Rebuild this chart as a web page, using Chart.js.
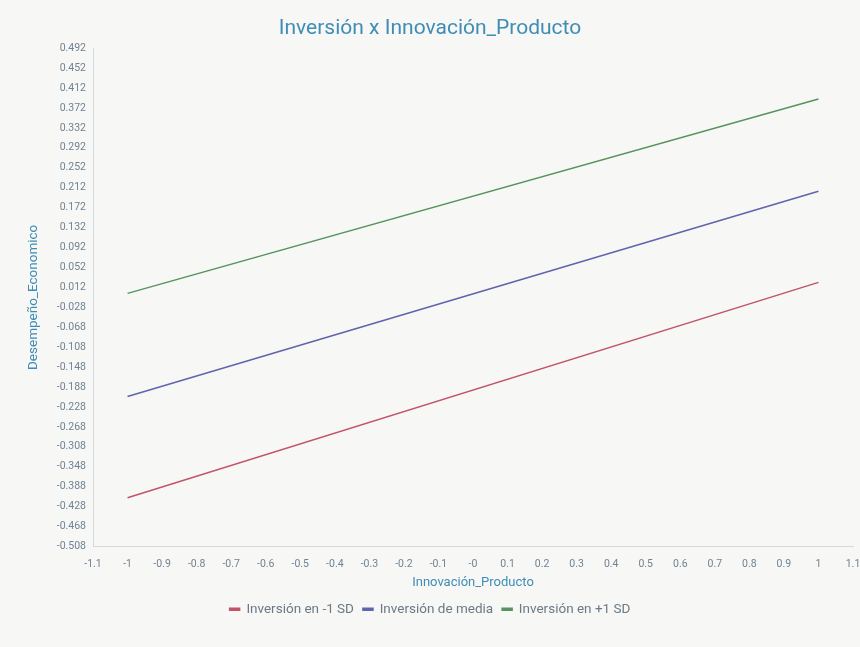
<!DOCTYPE html>
<html>
<head>
<meta charset="utf-8">
<script src="https://cdn.jsdelivr.net/npm/chart.js@4/dist/chart.umd.min.js"></script>
<style>
  html, body { margin: 0; padding: 0; background: #f7f7f5; }
  #wrap { width: 860px; height: 647px; }
</style>
</head>
<body>
<div id="wrap"><canvas id="c" width="860" height="647"></canvas></div>
<script>
// Simple-slopes plot: Desempeño_Economico vs Innovación_Producto at three levels of Inversión
const xEnds = [-1, 1];
const seriesNames = ['Inversión en -1 SD', 'Inversión de media', 'Inversión en +1 SD'];
const lowInv  = [-0.410, 0.022];
const meanInv = [-0.207, 0.205];
const highInv = [0.000, 0.390];

const xTickValues = [-1.1, -1, -0.9, -0.8, -0.7, -0.6, -0.5, -0.4, -0.3, -0.2, -0.1, 0, 0.1, 0.2, 0.3, 0.4, 0.5, 0.6, 0.7, 0.8, 0.9, 1, 1.1];
const xTickLabels = ['-1.1', '-1', '-0.9', '-0.8', '-0.7', '-0.6', '-0.5', '-0.4', '-0.3', '-0.2', '-0.1', '-0', '0.1', '0.2', '0.3', '0.4', '0.5', '0.6', '0.7', '0.8', '0.9', '1', '1.1'];
const yTickValues = [-0.508, -0.468, -0.428, -0.388, -0.348, -0.308, -0.268, -0.228, -0.188, -0.148, -0.108, -0.068, -0.028, 0.012, 0.052, 0.092, 0.132, 0.172, 0.212, 0.252, 0.292, 0.332, 0.372, 0.412, 0.452, 0.492];

const lineColors = ['#c25468', '#5e64ad', '#56935f'];
const accent = '#3f8db5';
const tickColor = '#6f8394';
const fontFamily = 'Roboto, "Open Sans", sans-serif';

const toPoints = ys => xEnds.map((x, i) => ({ x: x, y: ys[i] }));

new Chart(document.getElementById('c'), {
  type: 'scatter',
  data: {
    datasets: [lowInv, meanInv, highInv].map((ys, i) => ({
      label: seriesNames[i],
      data: toPoints(ys),
      showLine: true,
      borderColor: lineColors[i],
      backgroundColor: lineColors[i],
      borderWidth: 1.5,
      pointRadius: 0,
      pointHoverRadius: 0,
      tension: 0
    }))
  },
  options: {
    responsive: false,
    animation: false,
    layout: { padding: { left: 0, right: 0, top: 1, bottom: 21 } },
    plugins: {
      title: {
        display: true,
        text: 'Inversión x Innovación_Producto',
        color: accent,
        font: { family: fontFamily, size: 21, weight: 'normal' },
        padding: { top: 15, bottom: 7 }
      },
      legend: {
        position: 'bottom',
        labels: {
          color: '#6b7a87',
          font: { family: fontFamily, size: 13.5 },
          boxWidth: 10,
          boxHeight: 2,
          padding: 9
        }
      },
      tooltip: { enabled: false }
    },
    scales: {
      x: {
        type: 'linear',
        min: -1.1,
        max: 1.1,
        afterBuildTicks: s => { s.ticks = xTickValues.map(v => ({ value: v })); },
        afterFit: s => { s.height = 47; s.paddingRight = 7; },
        grid: { display: false, drawTicks: true, tickLength: 5, color: '#d5d9dd' },
        border: { display: true, color: '#d5d9dd' },
        ticks: {
          color: tickColor,
          font: { family: fontFamily, size: 10.5 },
          maxRotation: 0,
          autoSkip: false,
          padding: 7,
          callback: (v, i) => xTickLabels[i]
        },
        title: {
          display: true,
          text: 'Innovación_Producto',
          color: accent,
          font: { family: fontFamily, size: 13 },
          padding: { top: 0, bottom: 3 }
        }
      },
      y: {
        type: 'linear',
        min: -0.508,
        max: 0.492,
        afterBuildTicks: s => { s.ticks = yTickValues.map(v => ({ value: v })); },
        afterFit: s => { s.width = 93; },
        grid: { display: false, drawTicks: true, tickLength: 4, color: '#d5d9dd' },
        border: { display: true, color: '#d5d9dd' },
        ticks: {
          color: tickColor,
          font: { family: fontFamily, size: 10.5 },
          padding: 3,
          autoSkip: false,
          callback: v => v.toFixed(3)
        },
        title: {
          display: true,
          text: 'Desempeño_Economico',
          color: accent,
          font: { family: fontFamily, size: 13.5 },
          padding: { top: 26, bottom: 0 }
        }
      }
    }
  }
});
</script>
</body>
</html>
